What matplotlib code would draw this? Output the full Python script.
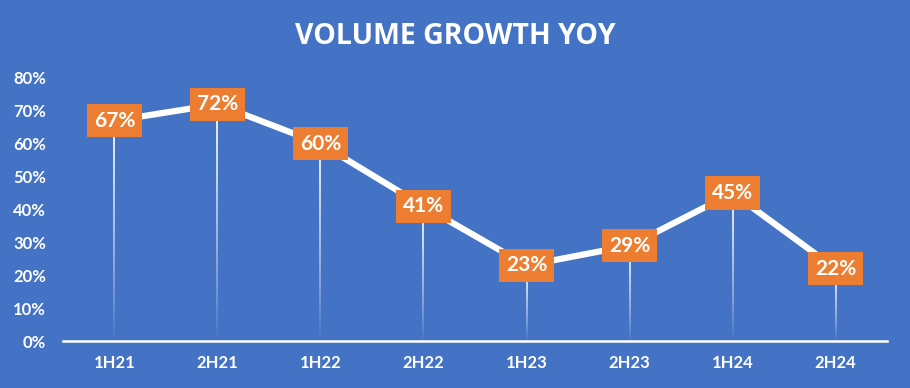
import matplotlib
matplotlib.use("Agg")
import matplotlib.pyplot as plt
import numpy as np
from matplotlib.collections import LineCollection
from matplotlib.ticker import PercentFormatter

PERIODS = ["1H21", "2H21", "1H22", "2H22", "1H23", "2H23", "1H24", "2H24"]
GROWTH = [0.67, 0.72, 0.60, 0.41, 0.23, 0.29, 0.45, 0.22]
Y_TICKS = [0.0, 0.1, 0.2, 0.3, 0.4, 0.5, 0.6, 0.7, 0.8]
TITLE = "VOLUME GROWTH YOY"

BG = "#4472C4"
ORANGE = "#ED7D31"
WHITE = "#FFFFFF"


def drop_lines(ax, xs, ys, steps=40):
	"""White drop lines from each point down to zero, fading toward the axis."""
	for x, y in zip(xs, ys):
		edges = np.linspace(0, y, steps + 1)
		segs = [[(x, edges[i]), (x, edges[i + 1])] for i in range(steps)]
		alphas = np.linspace(0.0, 1.0, steps) ** 0.8
		colors = [(1, 1, 1, a) for a in alphas]
		ax.add_collection(LineCollection(segs, colors=colors, linewidths=1.3, zorder=2))


def main() -> None:
	fig = plt.figure(figsize=(9.1, 3.88), dpi=100, facecolor=BG)
	ax = fig.add_axes([0.069, 0.121, 0.906, 0.678])
	ax.set_facecolor(BG)

	xs = np.arange(len(PERIODS))
	drop_lines(ax, xs, GROWTH)
	ax.plot(xs, GROWTH, color=WHITE, linewidth=4.5, solid_capstyle="round", zorder=3)

	for x, y in zip(xs, GROWTH):
		ax.text(x, y, f"{round(y * 100)}%", ha="center", va="center",
				color=WHITE, fontsize=15, fontweight="bold", family=["Lato", "DejaVu Sans"],
				zorder=5,
				bbox=dict(boxstyle="square,pad=0.32", facecolor=ORANGE, edgecolor="none"))

	ax.set_xlim(-0.5, len(PERIODS) - 0.5)
	ax.set_ylim(0, 0.8)
	ax.set_yticks(Y_TICKS)
	ax.yaxis.set_major_formatter(PercentFormatter(1.0, decimals=0))
	ax.set_xticks(xs)
	ax.set_xticklabels(PERIODS)

	for side in ("left", "right", "top"):
		ax.spines[side].set_visible(False)
	ax.spines["bottom"].set_color(WHITE)
	ax.spines["bottom"].set_linewidth(1.8)
	ax.tick_params(axis="both", length=0, colors=WHITE, labelsize=12)
	ax.tick_params(axis="y", pad=12)
	ax.tick_params(axis="x", pad=10)
	for lbl in ax.get_xticklabels() + ax.get_yticklabels():
		lbl.set_family(["Lato", "DejaVu Sans"])
		lbl.set_fontweight("bold")

	fig.text(0.5, 0.907, TITLE, ha="center", va="center", color=WHITE,
			 fontsize=20.5, fontweight="bold", family=["Open Sans", "DejaVu Sans"])

	fig.savefig("out.png", dpi=100, facecolor=BG)


if __name__ == "__main__":
	main()
